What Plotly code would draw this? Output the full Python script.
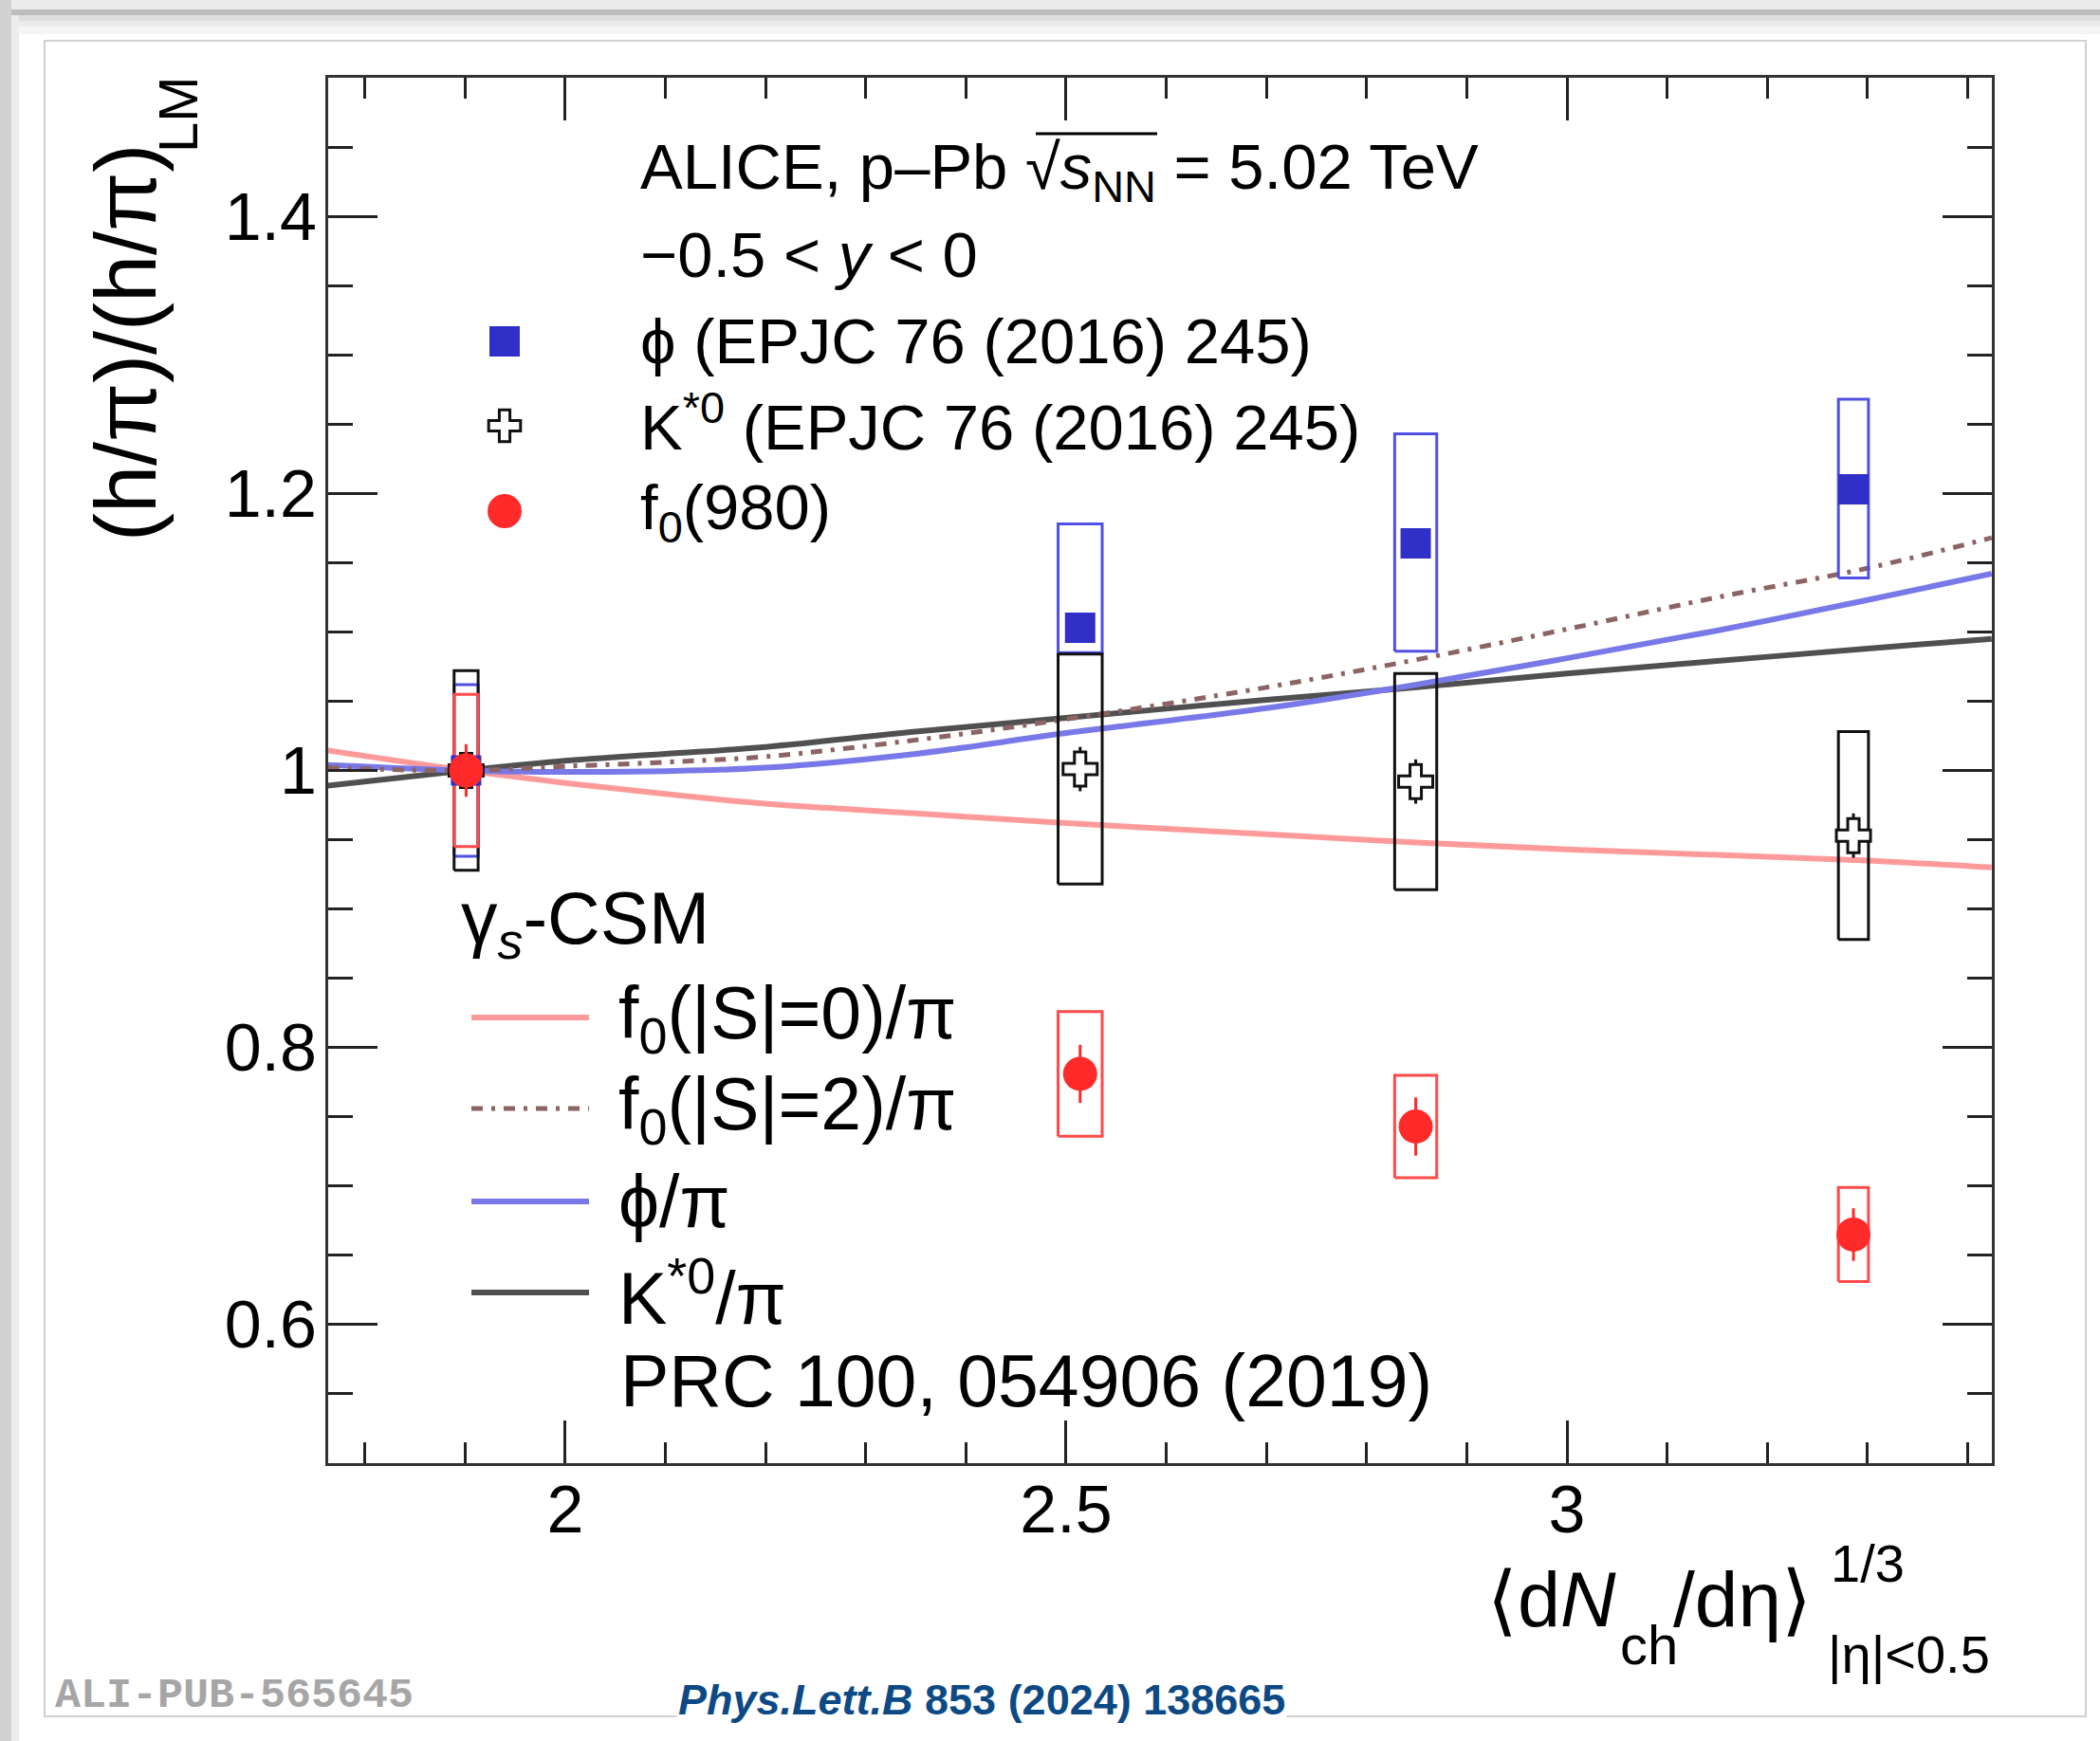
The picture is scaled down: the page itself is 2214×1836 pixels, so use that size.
import plotly.graph_objects as go

# ---------------- data ----------------
x_pts = [1.901, 2.514, 2.849, 3.286]          # <dNch/deta>^(1/3)
x_half = [0.012, 0.022, 0.021, 0.015]         # half width of systematic boxes

phi_y = [1.000, 1.103, 1.164, 1.203]
phi_stat = [0.008, 0.008, 0.009, 0.009]
phi_sys_lo = [0.938, 1.085, 1.086, 1.139]
phi_sys_hi = [1.062, 1.178, 1.243, 1.268]

kst_y = [1.000, 1.001, 0.992, 0.953]
kst_stat = [0.014, 0.016, 0.016, 0.016]
kst_sys = [0.072, 0.083, 0.078, 0.075]

f0_y = [1.000, 0.781, 0.743, 0.665]
f0_stat = [0.019, 0.021, 0.021, 0.019]
f0_sys = [0.055, 0.045, 0.037, 0.034]

# gamma_s-CSM model curves
csm_x = [1.763, 1.9, 2.0, 2.1, 2.2, 2.35, 2.5, 2.7, 2.85, 3.0, 3.15, 3.3, 3.424]
csm_f0s0 = [1.0144, 1.0, 0.991, 0.983, 0.976, 0.969, 0.962, 0.954, 0.948, 0.943, 0.939, 0.935, 0.930]
csm_f0s2 = [1.002, 1.0, 1.003, 1.006, 1.010, 1.022, 1.037, 1.060, 1.080, 1.102, 1.125, 1.146, 1.168]
csm_phi = [1.004, 1.0, 0.999, 0.9995, 1.002, 1.012, 1.027, 1.045, 1.062, 1.081, 1.101, 1.123, 1.142]
csm_kst = [0.989, 1.0, 1.007, 1.012, 1.017, 1.028, 1.038, 1.051, 1.060, 1.070, 1.079, 1.088, 1.095]

x_range = [1.7633, 3.4242]
y_range = [0.5, 1.5]

# ---------------- styles ----------------
FONT = "Liberation Sans, Arial, Helvetica, sans-serif"
C_PHI = "#3030c8"
C_PHI_BOX = "#5050e6"
C_F0 = "#ff2b2b"
C_F0_BOX = "#ff4a4a"
C_KST = "#111111"
C_S0 = "#ff9a9a"
C_S2 = "#8c6464"
C_CPHI = "#7878e8"
C_CKST = "#505050"

# figure pixel geometry
FW, FH = 2214, 1836
L, R, T, B = 346, 2100, 82, 1543


def px(x):
    return (x - L) / (R - L)


def py(y):
    return (B - y) / (B - T)


def boxes(xc, dx, lo, hi):
    xs, ys = [], []
    for xi, d, l, h in zip(xc, dx, lo, hi):
        xs += [xi - d, xi + d, xi + d, xi - d, xi - d, None]
        ys += [l, l, h, h, l, None]
    return xs, ys


fig = go.Figure()

# model curves
fig.add_trace(go.Scatter(x=csm_x, y=csm_f0s0, mode="lines", line=dict(color=C_S0, width=6, shape="spline"), showlegend=False))
fig.add_trace(go.Scatter(x=csm_x, y=csm_kst, mode="lines", line=dict(color=C_CKST, width=6, shape="spline"), showlegend=False))
fig.add_trace(go.Scatter(x=csm_x, y=csm_phi, mode="lines", line=dict(color=C_CPHI, width=6, shape="spline"), showlegend=False))
fig.add_trace(go.Scatter(x=csm_x, y=csm_f0s2, mode="lines", line=dict(color=C_S2, width=5, shape="spline", dash="12px,9px,4px,9px"), showlegend=False))

# systematic boxes
bx, by = boxes(x_pts, x_half, phi_sys_lo, phi_sys_hi)
fig.add_trace(go.Scatter(x=bx, y=by, mode="lines", line=dict(color=C_PHI_BOX, width=3), showlegend=False))
bx, by = boxes(x_pts, x_half, [v - s for v, s in zip(kst_y, kst_sys)], [v + s for v, s in zip(kst_y, kst_sys)])
fig.add_trace(go.Scatter(x=bx, y=by, mode="lines", line=dict(color=C_KST, width=3), showlegend=False))
bx, by = boxes(x_pts, x_half, [v - s for v, s in zip(f0_y, f0_sys)], [v + s for v, s in zip(f0_y, f0_sys)])
fig.add_trace(go.Scatter(x=bx, y=by, mode="lines", line=dict(color=C_F0_BOX, width=3), showlegend=False))

# data points
fig.add_trace(go.Scatter(x=x_pts, y=phi_y, mode="markers",
                         marker=dict(symbol="square", size=32, color=C_PHI, line=dict(width=0)),
                         error_y=dict(type="data", array=phi_stat, color=C_PHI, thickness=3, width=0),
                         showlegend=False))
fig.add_trace(go.Scatter(x=x_pts, y=kst_y, mode="markers",
                         marker=dict(symbol="cross", size=30, color="white", line=dict(width=3, color=C_KST)),
                         error_y=dict(type="data", array=kst_stat, color=C_KST, thickness=3, width=0),
                         showlegend=False))
fig.add_trace(go.Scatter(x=x_pts, y=f0_y, mode="markers",
                         marker=dict(symbol="circle", size=36, color=C_F0, line=dict(width=0)),
                         error_y=dict(type="data", array=f0_stat, color=C_F0, thickness=3, width=0),
                         showlegend=False))

# ---------------- legend glyphs on a pixel overlay axis ----------------
def pix_trace(x, y, **kw):
    fig.add_trace(go.Scatter(x=x, y=y, xaxis="x2", yaxis="y2", showlegend=False, cliponaxis=False, hoverinfo="skip", **kw))

pix_trace([532], [360], mode="markers", marker=dict(symbol="square", size=32, color=C_PHI))
pix_trace([532], [449], mode="markers", marker=dict(symbol="cross", size=28, color="white", line=dict(width=3, color=C_KST)))
pix_trace([532], [539], mode="markers", marker=dict(symbol="circle", size=36, color=C_F0))
pix_trace([497, 621], [1073, 1073], mode="lines", line=dict(color=C_S0, width=6))
pix_trace([497, 621], [1169, 1169], mode="lines", line=dict(color=C_S2, width=5, dash="12px,9px,4px,9px"))
pix_trace([497, 621], [1267, 1267], mode="lines", line=dict(color=C_CPHI, width=6))
pix_trace([497, 621], [1363, 1363], mode="lines", line=dict(color=C_CKST, width=6))
# overbar of the square root
pix_trace([1092, 1220], [141, 141], mode="lines", line=dict(color="black", width=3))

# ---------------- texts ----------------
anns = []


def ann(text, x, y, size, xanchor="left", yanchor="middle", color="black", family=FONT, angle=0, bg=None):
    d = dict(text=text, x=px(x), y=py(y), xref="paper", yref="paper", xanchor=xanchor, yanchor=yanchor,
             showarrow=False, font=dict(size=size, color=color, family=family), textangle=angle)
    if bg:
        d["bgcolor"] = bg
    anns.append(d)


S1 = 67
ann("ALICE, p\u2013Pb \u221a<i>s</i><sub>NN</sub> = 5.02 TeV", 673, 181, S1)
ann("\u22120.5 &lt; <i>y</i> &lt; 0", 673, 268, S1)
ann("\u03d5 (EPJC 76 (2016) 245)", 673, 359, S1)
ann("K<sup>*0</sup> (EPJC 76 (2016) 245)", 673, 446, S1)
ann("f<sub>0</sub>(980)", 673, 539, S1)

S2 = 77
ann("\u03b3<sub><i>s</i></sub>-CSM", 484, 973, S2)
ann("f<sub>0</sub>(|S|=0)/\u03c0", 650, 1073, S2)
ann("f<sub>0</sub>(|S|=2)/\u03c0", 650, 1169, S2)
ann("\u03d5/\u03c0", 650, 1267, S2)
ann("K<sup>*0</sup>/\u03c0", 650, 1363, S2)
ann("PRC 100, 054906 (2019)", 652, 1456, S2)

# axis titles
ann("(h/\u03c0)/(h/\u03c0)", 133, 362, 90, xanchor="center", angle=-90)
ann("LM", 187, 121, 58, xanchor="center", angle=-90)
ann("\u27e8d<i>N</i>", 1706, 1687, 81, xanchor="right")
ann("ch", 1706, 1734, 58, xanchor="left")
ann("/d\u03b7\u27e9", 1762, 1687, 82, xanchor="left")
ann("1/3", 1928, 1648, 56, xanchor="left")
ann("|\u03b7|&lt;0.5", 2100, 1744, 56, xanchor="right")

# footer
ann("<b>ALI-PUB-565645</b>", 56, 1788, 45, family="Liberation Mono, Courier New, monospace", color="#a6a6a6")
ann("<b><i>Phys.Lett.B</i> 853 (2024) 138665</b>", 713, 1793, 45, color="#0d4a85", bg="white")

# ---------------- background frame shapes ----------------
shapes = []


def rect(x0, y0, x1, y1, fill=None, line=None, lw=0):
    shapes.append(dict(type="rect", xref="paper", yref="paper", x0=px(x0), x1=px(x1), y0=py(y0), y1=py(y1),
                       fillcolor=fill if fill else "rgba(0,0,0,0)",
                       line=dict(color=line if line else "rgba(0,0,0,0)", width=lw), layer="below"))


rect(0, 0, FW, 10, fill="#ececec")
rect(0, 0, 12, FH, fill="#d2d2d2")
rect(12, 10, FW, 16, fill="#bdbdbd")
rect(12, 16, FW, 22, fill="#dedede")
rect(12, 22, FW, 28, fill="#eaeaea")
rect(12, 28, FW, 36, fill="#f5f5f5")
rect(12, 16, 20, FH, fill="#ececec")
rect(47, 43, 2199, 1810, line="#d0d0d0", lw=2)

# ---------------- layout ----------------
axis_common = dict(showline=True, linecolor="#333333", linewidth=3, mirror="allticks",
                   ticks="inside", tickcolor="#222222", tickwidth=2.5, showgrid=False, zeroline=False,
                   tickfont=dict(size=70, family=FONT, color="black"))

fig.update_layout(
    width=FW, height=FH,
    margin=dict(l=L, r=FW - R, t=T, b=FH - B, pad=0),
    paper_bgcolor="white", plot_bgcolor="white",
    showlegend=False,
    xaxis=dict(range=x_range, tick0=0, dtick=0.5, ticklen=45, ticklabelstandoff=-14,
               minor=dict(tick0=0, dtick=0.1, ticklen=22, tickwidth=2.5, ticks="inside", tickcolor="#222222"),
               **axis_common),
    yaxis=dict(range=y_range, tick0=0, dtick=0.2, ticklen=52, ticklabelstandoff=-5,
               minor=dict(tick0=0, dtick=0.05, ticklen=26, tickwidth=2.5, ticks="inside", tickcolor="#222222"),
               **axis_common),
    xaxis2=dict(overlaying="x", range=[L, R], visible=False, fixedrange=True),
    yaxis2=dict(overlaying="y", range=[B, T], visible=False, fixedrange=True),
    annotations=anns,
    shapes=shapes,
)

fig.write_html("out.html")
